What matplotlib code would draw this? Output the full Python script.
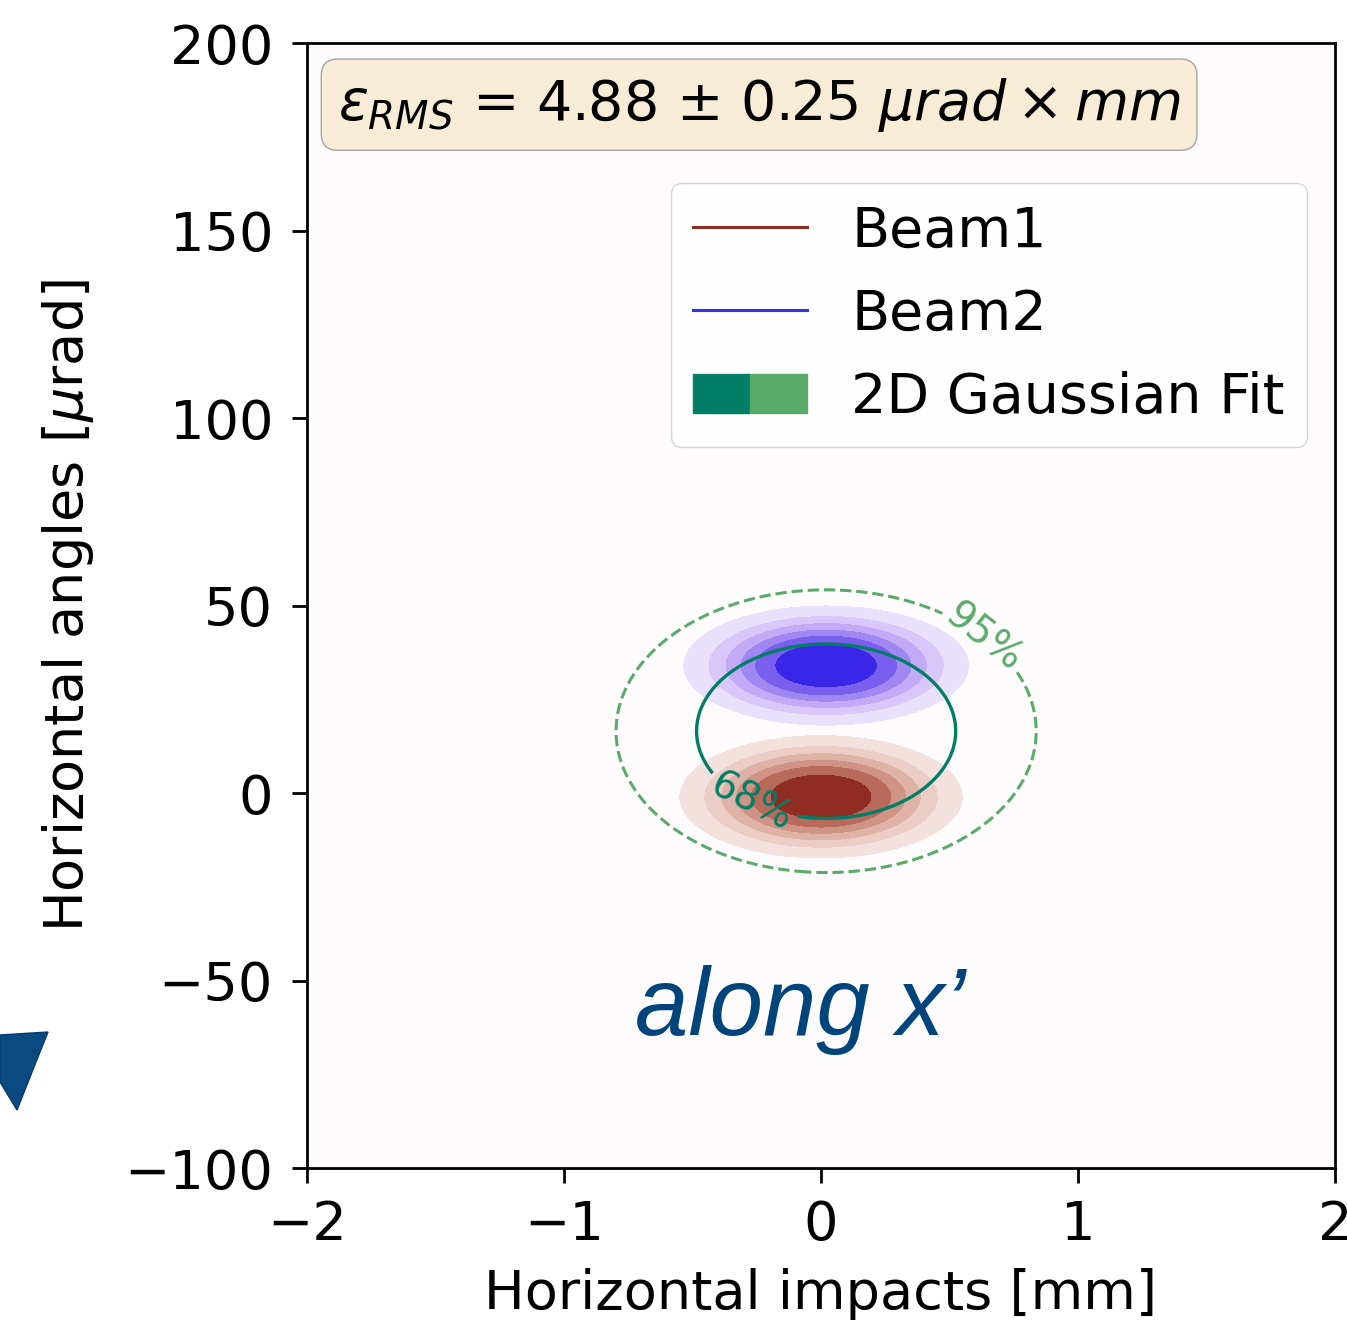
import numpy as np
import matplotlib
matplotlib.use("Agg")
import matplotlib.pyplot as plt
from matplotlib.lines import Line2D
from matplotlib.patches import Patch, Polygon
from matplotlib.legend_handler import HandlerTuple

# beam profiles (mean x [mm], mean y [urad], sigma x [mm], sigma y [urad])
beam1 = dict(mx=0.0, my=-1.0, sx=0.256, sy=7.6)
beam2 = dict(mx=0.02, my=34.0, sx=0.258, sy=7.4)
# 2D gaussian fit of both beams together
fit = dict(mx=0.02, my=16.5, sx=0.334, sy=15.4)
fit_levels = [2.279, 5.991]          # chi2 (2 dof) for 68% / 95%
fit_names = {2.279: '68%', 5.991: '95%'}
emittance = 4.88
emittance_err = 0.25

# filled contour levels relative to the peak density
band_levels = [0.10, 0.21, 0.32, 0.44, 0.57, 0.75, 1.01]
beam1_colors = ['#f3e1dd', '#ebcdc6', '#dfb2a8', '#cf9486', '#b86a5c', '#8f2d22']
beam2_colors = ['#e9e0fc', '#d8c8fa', '#c2aaf7', '#a088f3', '#7a5eee', '#3a26e8']

c_beam1 = '#8b2e22'
c_beam2 = '#3a30e0'
c_fit68 = '#007f66'
c_fit95 = '#5aab6a'

FS = 39

x = np.linspace(-2, 2, 401)
y = np.linspace(-100, 200, 601)
X, Y = np.meshgrid(x, y)


def gauss(p):
    return np.exp(-0.5 * (((X - p['mx']) / p['sx']) ** 2 + ((Y - p['my']) / p['sy']) ** 2))


fig = plt.figure(figsize=(13.47, 13.29), dpi=100)
ax = fig.add_axes([0.228, 0.1211, 0.763, 0.8465])
ax.set_facecolor('#fdfbfc')

ax.contourf(X, Y, gauss(beam1), levels=band_levels, colors=beam1_colors)
ax.contourf(X, Y, gauss(beam2), levels=band_levels, colors=beam2_colors)

# mahalanobis distance of the fitted gaussian
D2 = ((X - fit['mx']) / fit['sx']) ** 2 + ((Y - fit['my']) / fit['sy']) ** 2
cs = ax.contour(X, Y, D2, levels=fit_levels, colors=[c_fit68, c_fit95],
                linestyles=['solid', 'dashed'], linewidths=[2.4, 2.2])
ax.clabel(cs, fmt=fit_names, fontsize=28, inline=True,
          manual=[(-0.27, -2.0), (0.64, 42.0)])

ax.set_xlim(-2, 2)
ax.set_ylim(-100, 200)
ax.set_xticks([-2, -1, 0, 1, 2])
ax.set_yticks([-100, -50, 0, 50, 100, 150, 200])
ax.tick_params(labelsize=FS, length=10.5, width=2)
ax.tick_params(axis='x', pad=12)
ax.tick_params(axis='y', pad=14)
for s in ax.spines.values():
    s.set_linewidth(2.0)

ax.set_xlabel('Horizontal impacts [mm]', fontsize=FS, labelpad=12)
ax.set_ylabel(r'Horizontal angles [$\mu$rad]', fontsize=FS, labelpad=20)

txt = (r'$\varepsilon_{RMS}$ = %.2f ± %.2f $\mu rad \times mm$'
       % (emittance, emittance_err))
ax.text(0.030, 0.971, txt, transform=ax.transAxes, fontsize=40,
        ha='left', va='top',
        bbox=dict(boxstyle='round', facecolor='wheat', alpha=0.5, edgecolor='#555555'))

handles = [Line2D([], [], color=c_beam1, lw=2.2),
           Line2D([], [], color=c_beam2, lw=2.2),
           (Patch(color=c_fit68), Patch(color=c_fit95))]
ax.legend(handles, ['Beam1', 'Beam2', '2D Gaussian Fit'],
          handler_map={tuple: HandlerTuple(ndivide=None, pad=0)},
          loc='upper right', bbox_to_anchor=(0.973, 0.876), borderaxespad=0,
          fontsize=40, labelspacing=0.52, handlelength=2.05, handletextpad=0.8)

ax.text(-0.08, -64.5, 'along x\u2019', fontsize=69, style='italic',
        family='Liberation Sans', color='#00447c', ha='center', va='baseline')

# hand-drawn marker at the left edge
W, H = 1347, 1329
pts = [(0, 1035), (48, 1032), (36, 1062), (17, 1110), (0, 1082)]
fig.patches.append(Polygon([(px / W, 1 - py / H) for px, py in pts], closed=True,
                           transform=fig.transFigure, facecolor='#0a4a80',
                           edgecolor='#003a70', lw=1))

fig.savefig('out.png', dpi=100)
